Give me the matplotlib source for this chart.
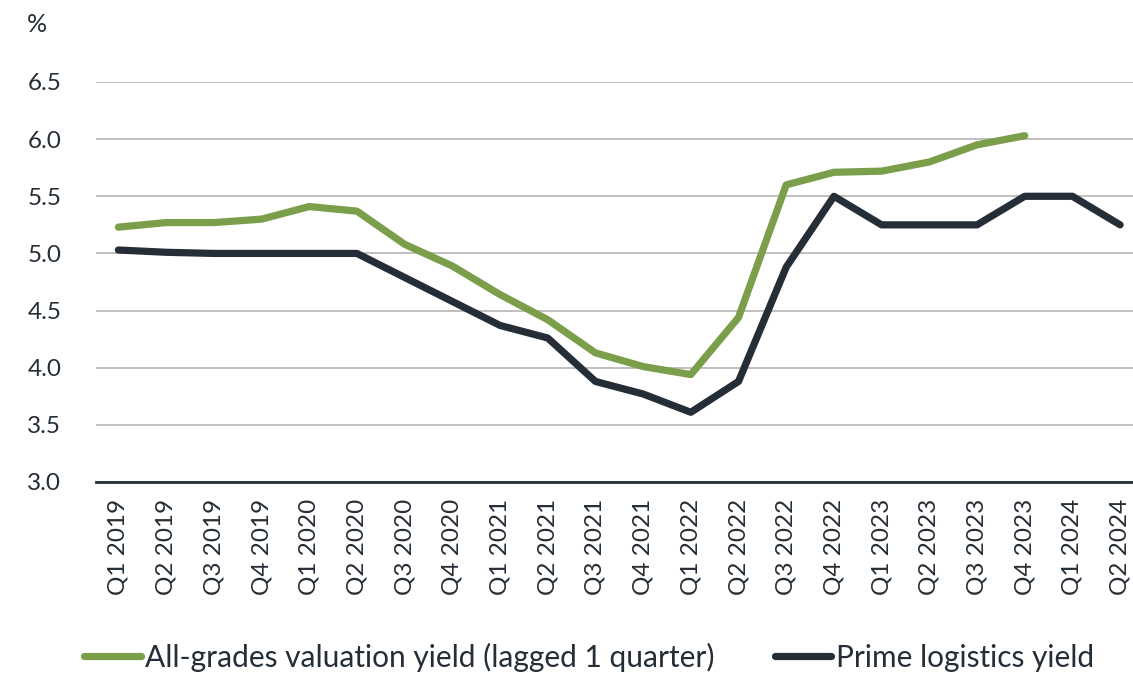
import matplotlib
matplotlib.use("Agg")
import matplotlib.pyplot as plt
from matplotlib.lines import Line2D

plt.rcParams['font.family'] = ['Lato', 'DejaVu Sans']

quarters = ["Q1 2019", "Q2 2019", "Q3 2019", "Q4 2019", "Q1 2020", "Q2 2020", "Q3 2020",
            "Q4 2020", "Q1 2021", "Q2 2021", "Q3 2021", "Q4 2021", "Q1 2022", "Q2 2022",
            "Q3 2022", "Q4 2022", "Q1 2023", "Q2 2023", "Q3 2023", "Q4 2023", "Q1 2024", "Q2 2024"]
all_grades = [5.23, 5.27, 5.27, 5.30, 5.41, 5.37, 5.08, 4.89, 4.64, 4.42, 4.13, 4.01,
              3.94, 4.44, 5.60, 5.71, 5.72, 5.80, 5.95, 6.03]
prime = [5.03, 5.01, 5.00, 5.00, 5.00, 5.00, 4.79, 4.58, 4.37, 4.26, 3.88, 3.77,
         3.61, 3.88, 4.88, 5.50, 5.25, 5.25, 5.25, 5.50, 5.50, 5.25]
yticks = [3.0, 3.5, 4.0, 4.5, 5.0, 5.5, 6.0, 6.5]

green = "#7a9e4a"
dark = "#252e36"
text_c = "#252e36"

W, H = 1133, 673
fig = plt.figure(figsize=(W / 100, H / 100), dpi=100)
ax = fig.add_axes([96 / W, 1 - 482 / H, (W - 96) / W, 400 / H])

x_all = list(range(len(all_grades)))
x_pr = list(range(len(prime)))
ax.plot(x_all, all_grades, color=green, lw=5.2, solid_capstyle='round', solid_joinstyle='round', zorder=3)
ax.plot(x_pr, prime, color=dark, lw=5.2, solid_capstyle='round', solid_joinstyle='round', zorder=4)

ax.set_ylim(3.0, 6.5)
ax.set_xlim(-0.47, 21.27)
ax.set_yticks(yticks)
ax.set_yticklabels([f"{v:.1f}" for v in yticks])
ax.set_xticks(range(len(quarters)))
ax.set_xticklabels(quarters, rotation=90)
ax.grid(axis='y', color='#b4b4b4', lw=1.2)
ax.set_axisbelow(True)
for s in ['top', 'right', 'left']:
    ax.spines[s].set_visible(False)
ax.spines['bottom'].set_color(dark)
ax.spines['bottom'].set_linewidth(2)
ax.spines['bottom'].set_zorder(5)
ax.tick_params(axis='both', length=0, labelsize=17.5, labelcolor=text_c)
ax.tick_params(axis='y', pad=25)
ax.tick_params(axis='x', pad=12)
for lab in ax.get_yticklabels():
    lab.set_horizontalalignment('right')

fig.text(27 / W, 1 - 25 / H, "%", fontsize=18, color=text_c, ha='left', va='center')

handles = [Line2D([], [], color=green, lw=5.2, solid_capstyle='round'),
           Line2D([], [], color=dark, lw=5.2, solid_capstyle='round')]
fig.legend(handles, ["All-grades valuation yield (lagged 1 quarter)", "Prime logistics yield"],
           loc='center', bbox_to_anchor=(589 / W, 1 - 657 / H), ncol=2, frameon=False,
           fontsize=21.5, handlelength=1.9, handletextpad=0.15, columnspacing=2.0,
           labelcolor=text_c, borderpad=0, borderaxespad=0)

fig.savefig("out.png", dpi=100)
